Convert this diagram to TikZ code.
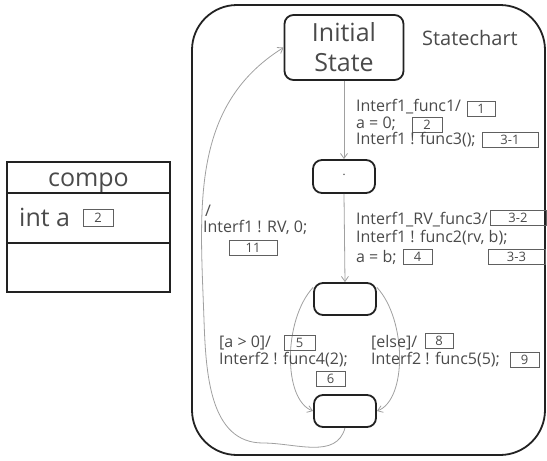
\documentclass[tikz,border=0pt]{standalone}
\usepackage{fontspec}
\setmainfont{Open Sans}
\usetikzlibrary{arrows.meta}
\definecolor{txt}{HTML}{4A4A4A}
\definecolor{edge}{HTML}{222222}
\definecolor{arr}{HTML}{A0A0A0}
\definecolor{nbox}{HTML}{606060}
\begin{document}
\begin{tikzpicture}[x=1pt,y=-1pt,
  state/.style={draw=edge,line width=1.8pt,rounded corners=9pt,inner sep=0pt},
  lbl/.style={anchor=west,inner sep=0pt,text=txt,font=\fontsize{16}{17}\selectfont},
  numbox/.style={draw=nbox,line width=0.9pt,inner sep=0pt,text=txt,font=\fontsize{13}{14}\selectfont,minimum height=15pt},
  conn/.style={draw=arr,line width=0.8pt,-{Straight Barb[length=5pt,width=7pt]}}]
\useasboundingbox (0,0) rectangle (547,461);
% outer statechart frame
\draw[edge,line width=1.8pt,rounded corners=45pt] (192,5) rectangle (545,455);
\node[text=txt,font=\fontsize{20}{22}\selectfont] (title) at (470,38) {Statechart};
% states
\node[state,minimum width=119pt,minimum height=65pt,text=txt,align=center,font=\fontsize{25}{30}\selectfont] (init) at (344,47.5) {Initial\\State};
\node[state,minimum width=62pt,minimum height=33pt,text=txt,font=\fontsize{14}{14}\selectfont] (star) at (344,176.5) {\raisebox{2pt}{$\cdot$}};
\node[state,minimum width=62pt,minimum height=32pt] (mid) at (345,299) {};
\node[state,minimum width=62pt,minimum height=32pt] (bot) at (345,411) {};
% transitions
\draw[conn] (init.south) -- (star.north);
\draw[conn] (star.south) -- (mid.north);
\draw[conn] (mid.160) .. controls (283,320) and (283,400) .. (bot.west);
\draw[conn] (mid.20) .. controls (407,320) and (407,400) .. (bot.east);
\coordinate (lp1) at (263,443);
\coordinate (lp2) at (204,320);
\draw[conn] (bot.south) to[out=-105,in=0] (lp1) to[out=180,in=-88] (lp2) to[out=92,in=-148] (init.west);
% labels: init -> star
\node[lbl] (l1) at (356,107) {Interf1\_func1/};
\node[numbox,minimum width=28pt] (n1) at (481,108.5) {1};
\node[lbl] (l2) at (356,124) {a = 0;};
\node[numbox,minimum width=30pt] (n2) at (427,125) {2};
\node[lbl] (l3) at (356,140) {Interf1 ! func3();};
\node[numbox,minimum width=56pt] (n3) at (510,140) {3-1};
% labels: star -> mid
\node[lbl] (l4) at (356,220) {Interf1\_RV\_func3/};
\node[numbox,minimum width=56pt] (n4) at (518,218) {3-2};
\node[lbl] (l5) at (356,238) {Interf1 ! func2(rv, b);};
\node[lbl] (l6) at (356,257) {a = b;};
\node[numbox,minimum width=29pt] (n5) at (417.5,257) {4};
\node[numbox,minimum width=57pt] (n6) at (516.5,256.5) {3-3};
% labels: loop back
\node[lbl] (l7) at (205,211) {/};
\node[lbl] (l8) at (203,227) {Interf1 ! RV, 0;};
\node[numbox,minimum width=48pt] (n7) at (253,247.5) {11};
% labels: mid -> bot
\node[lbl] (l9) at (219,343) {[a > 0]/};
\node[numbox,minimum width=31pt] (n8) at (299.5,342.5) {5};
\node[lbl] (l10) at (219,360) {Interf2 ! func4(2);};
\node[numbox,minimum width=29pt] (n9) at (330.5,378.5) {6};
\node[lbl] (l11) at (371,343) {[else]/};
\node[numbox,minimum width=28pt] (n10) at (439,340.5) {8};
\node[lbl] (l12) at (371,360) {Interf2 ! func5(5);};
\node[numbox,minimum width=29pt] (n11) at (524.5,359.5) {9};
% class box
\draw[edge,line width=1.6pt] (7,162) rectangle (170,292);
\draw[edge,line width=1.6pt] (7,193) -- (170,193);
\draw[edge,line width=1.6pt] (7,243) -- (170,243);
\node[text=txt,font=\fontsize{25}{27}\selectfont,anchor=base] (cname) at (88.5,186) {compo};
\node[lbl,font=\fontsize{25}{27}\selectfont] (attr) at (19,217) {int a};
\node[numbox,minimum width=30pt,minimum height=17pt] (n12) at (98,218) {2};
\end{tikzpicture}
\end{document}
